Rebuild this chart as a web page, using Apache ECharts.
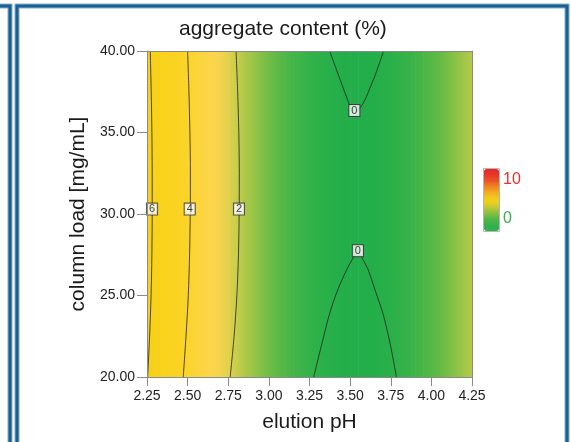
<!DOCTYPE html>
<html>
<head>
<meta charset="utf-8">
<script src="https://cdn.jsdelivr.net/npm/echarts@6/dist/echarts.min.js"></script>
<style>
  html, body { margin: 0; padding: 0; background: #ffffff; }
  #chart { width: 571px; height: 442px; }
</style>
</head>
<body>
<div id="chart"></div>
<script>
// Axis ranges and tick spacing
const phRange = [2.25, 4.25];
const phStep = 0.25;
const loadRange = [20, 40];
const loadStep = 5;

// Aggregate content (%) across elution pH (profile at mid column load)
const phSamples = [
  2.25, 2.30, 2.35, 2.40, 2.45, 2.50, 2.55, 2.60, 2.65, 2.70,
  2.75, 2.80, 2.85, 2.90, 2.95, 3.00, 3.05, 3.10, 3.15, 3.20,
  3.25, 3.30, 3.35, 3.40, 3.45, 3.50, 3.55, 3.60, 3.65, 3.70,
  3.75, 3.80, 3.85, 3.90, 3.95, 4.00, 4.05, 4.10, 4.15, 4.20, 4.25
];
const aggregateProfile = [
  6.30, 5.80, 5.40, 5.00, 4.60, 4.15, 3.80, 3.35, 3.00, 2.70,
  2.35, 2.10, 1.80, 1.55, 1.30, 1.10, 0.90, 0.72, 0.57, 0.43,
  0.31, 0.21, 0.13, 0.07, 0.03, 0.01, 0.00, 0.01, 0.04, 0.09,
  0.16, 0.25, 0.36, 0.49, 0.64, 0.80, 0.98, 1.18, 1.40, 1.63, 1.88
];

// Contour lines: [elution pH, column load]
const contour6 = [[2.270,40],[2.276,37.5],[2.280,35],[2.282,32.5],[2.282,30],[2.280,27.5],[2.275,25],[2.266,22.5],[2.254,20]];
const contour4 = [[2.500,40],[2.508,37.5],[2.514,35],[2.517,32.5],[2.516,30],[2.512,27.5],[2.504,25],[2.490,22.5],[2.473,20]];
const contour2 = [[2.798,40],[2.808,37.5],[2.815,35],[2.818,32.5],[2.817,30],[2.813,27.5],[2.803,25],[2.786,22.5],[2.762,20]];
const contour0Upper = [[3.374,40],[3.425,38.6],[3.477,37.2],[3.500,36.6],[3.525,36.2],[3.550,36.4],[3.575,36.7],[3.600,37.2],[3.657,38.6],[3.706,40]];
const contour0Lower = [[3.276,20],[3.330,22.2],[3.374,23.9],[3.418,25.2],[3.456,26.1],[3.490,26.8],[3.518,27.3],[3.548,27.75],[3.579,27.2],[3.610,26.6],[3.641,25.7],[3.675,24.7],[3.702,23.9],[3.745,22.1],[3.785,20]];

// Contour level labels: [pH, load, level]
const contourLabels = [[2.281,30.3,'6'],[2.513,30.3,'4'],[2.816,30.3,'2'],[3.526,36.35,'0'],[3.548,27.75,'0']];

// Colour bar extent and its end labels
const scaleRange = [-3.2, 12.8];
const scaleLabels = ['10', '0'];

const FONT = '"Liberation Sans", Arial, Helvetica, sans-serif';
const chart = echarts.init(document.getElementById('chart'), null, { renderer: 'canvas' });

const lineStyle = { color: 'rgba(35,35,35,0.8)', width: 1 };
function contourSeries(data) {
  return {
    type: 'line', data: data, showSymbol: false, symbol: 'none', smooth: 0.3,
    lineStyle: lineStyle, z: 3, silent: true, animation: false
  };
}

const frameDark = '#1a6191';
const frameLight = '#86afcb';

const option = {
  animation: false,
  title: {
    text: 'aggregate content (%)',
    left: 179, top: 19, padding: 0,
    textStyle: { fontFamily: FONT, fontSize: 21, fontWeight: 'normal', color: '#1a1a1a' }
  },
  grid: { left: 147, top: 51, width: 325, height: 326 },
  xAxis: [{
    type: 'value', min: phRange[0], max: phRange[1], interval: phStep,
    name: 'elution pH', nameLocation: 'middle', nameGap: 35,
    nameTextStyle: { fontFamily: FONT, fontSize: 21, color: '#1a1a1a' },
    axisLine: { show: true, lineStyle: { color: '#8a8a8a' } },
    axisTick: { show: true, length: 9, lineStyle: { color: '#8a8a8a' } },
    axisLabel: { margin: 12, fontFamily: FONT, fontSize: 14, color: '#222',
      formatter: v => v.toFixed(2) },
    splitLine: { show: false }, z: 5
  }, {
    type: 'value', position: 'top', min: phRange[0], max: phRange[1],
    axisLine: { show: true, lineStyle: { color: '#8a8a8a' } },
    axisTick: { show: false }, axisLabel: { show: false }, splitLine: { show: false }, z: 5
  }],
  yAxis: [{
    type: 'value', min: loadRange[0], max: loadRange[1], interval: loadStep,
    name: 'column load [mg/mL]', nameLocation: 'middle', nameGap: 54,
    nameTextStyle: { fontFamily: FONT, fontSize: 21, color: '#1a1a1a' },
    axisLine: { show: true, lineStyle: { color: '#8a8a8a' } },
    axisTick: { show: true, length: 10, lineStyle: { color: '#8a8a8a' } },
    axisLabel: { margin: 12, fontFamily: FONT, fontSize: 14, color: '#222',
      formatter: v => v.toFixed(2) },
    splitLine: { show: false }, z: 5
  }, {
    type: 'value', position: 'right', min: loadRange[0], max: loadRange[1],
    axisLine: { show: true, lineStyle: { color: '#8a8a8a' } },
    axisTick: { show: false }, axisLabel: { show: false }, splitLine: { show: false }, z: 5
  }],
  visualMap: [{
    // colour scale of the response surface
    type: 'continuous', show: false, seriesIndex: 0, dimension: 1,
    min: 0, max: 7,
    inRange: { color: [
      '#22ae4a', '#3eb448', '#66bb46', '#96c447', '#bfcb49', '#eed44e', '#fcd54c',
      '#fcd540', '#fbd42f', '#fad325', '#f9d21f', '#f8d21b', '#f8d119', '#f7d018', '#f6cf17'
    ] }
  }, {
    // colour bar beside the plot
    type: 'continuous', show: true, seriesIndex: 7, calculable: false, hoverLink: false,
    min: scaleRange[0], max: scaleRange[1], text: null, showLabel: false,
    left: 484, top: 169, itemWidth: 15, itemHeight: 62, padding: 0,
    inRange: { color: [
      '#2db14b', '#33b24a', '#4db548', '#80bd43', '#b5c73a', '#ead01e',
      '#f4c81c', '#f2a820', '#ef7f24', '#eb5128', '#e73529', '#e52629'
    ] }
  }],
  graphic: [
    // framing of the panel and its left neighbour
    { type: 'rect', shape: { x: -600, y: 6, width: 610, height: 600 },
      style: { fill: 'none', stroke: frameLight, lineWidth: 5 }, silent: true, z: 0 },
    { type: 'rect', shape: { x: -600, y: 6, width: 610, height: 600 },
      style: { fill: 'none', stroke: frameDark, lineWidth: 3 }, silent: true, z: 1 },
    { type: 'rect', shape: { x: 17, y: 6, width: 550, height: 600 },
      style: { fill: 'none', stroke: frameLight, lineWidth: 5 }, silent: true, z: 0 },
    { type: 'rect', shape: { x: 17, y: 6, width: 550, height: 600 },
      style: { fill: 'none', stroke: frameDark, lineWidth: 3 }, silent: true, z: 1 },
    // colour bar outline and labels
    { type: 'rect', shape: { x: 483.5, y: 168.5, width: 16, height: 63 },
      style: { fill: 'none', stroke: '#b5b5b5', lineWidth: 1 }, silent: true, z: 10 },
    { type: 'text', x: 503, y: 180, silent: true, z: 10,
      style: { text: scaleLabels[0], fill: '#e8312b', font: '16px ' + FONT, verticalAlign: 'middle' } },
    { type: 'text', x: 503, y: 219, silent: true, z: 10,
      style: { text: scaleLabels[1], fill: '#3aae4a', font: '16px ' + FONT, verticalAlign: 'middle' } }
  ],
  series: [
    {
      // response surface, each slab shaded between neighbouring samples
      type: 'custom', coordinateSystem: 'cartesian2d', clip: true, silent: true, z: 1,
      data: phSamples.map((p, i) => [p, aggregateProfile[i]]),
      encode: { x: 0 },
      renderItem: function (params, api) {
        const i = params.dataIndexInside;
        if (i >= params.dataInsideLength - 1) return null;
        const a = api.coord([api.value(0, i), loadRange[1]]);
        const b = api.coord([api.value(0, i + 1), loadRange[0]]);
        const c0 = api.visual('color', i);
        const c1 = api.visual('color', i + 1);
        return {
          type: 'rect',
          shape: { x: a[0], y: a[1], width: b[0] - a[0] + 0.6, height: b[1] - a[1] },
          style: { fill: new echarts.graphic.LinearGradient(0, 0, 1, 0, [
            { offset: 0, color: c0 }, { offset: 1, color: c1 }]) }
        };
      }
    },
    contourSeries(contour6),
    contourSeries(contour4),
    contourSeries(contour2),
    contourSeries(contour0Upper),
    contourSeries(contour0Lower),
    {
      type: 'scatter', data: contourLabels, symbol: 'rect', symbolSize: 1, z: 4, silent: true,
      itemStyle: { color: 'rgba(0,0,0,0)' },
      label: {
        show: true, position: 'inside', formatter: p => p.value[2],
        fontFamily: FONT, fontSize: 11, color: '#111111', lineHeight: 10,
        backgroundColor: '#ffffff', borderColor: '#333333', borderWidth: 1,
        padding: [1, 2, 0, 2]
      }
    },
    { type: 'scatter', data: [], silent: true }
  ]
};
chart.setOption(option);
</script>
</body>
</html>
